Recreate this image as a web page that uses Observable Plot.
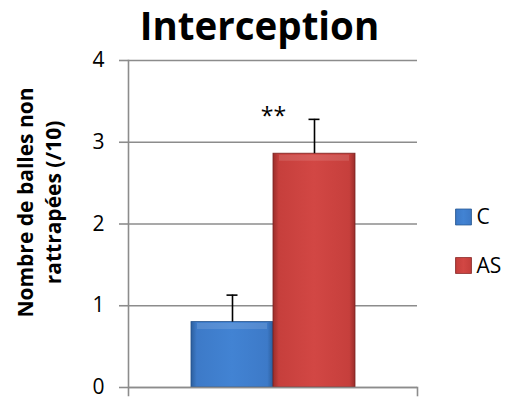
<!DOCTYPE html>
<html>
<head>
<meta charset="utf-8">
<script src="https://cdn.jsdelivr.net/npm/d3@7"></script>
<script src="https://cdn.jsdelivr.net/npm/@observablehq/plot@0.6"></script>
<style>
  html, body { margin: 0; padding: 0; background: #fff; }
  svg { font-family: "Open Sans", Lato, sans-serif; }
</style>
</head>
<body>
<div id="chart"></div>
<script>
const series = ["C", "AS"];
const values = [0.80, 2.86];
const errors = [0.33, 0.42];
const significance = ["", "**"];
const yTicks = [0, 1, 2, 3, 4];
const title = "Interception";
const yLabel = "Nombre de balles non\nrattrapées (/10)";

const data = series.map((s, i) => ({series: s, value: values[i], err: errors[i], sig: significance[i]}));

const gridColor = "#8c8c8c";
const W = 505, H = 401, mL = 128, mR = 88, mT = 60, mB = 14;
const innerH = H - mT - mB;

const legendMarks = series.flatMap((s, i) => [
  Plot.dot([s], {frameAnchor: "top-left", dx: 463 - mL, dy: 216.5 - mT + i * 48.5, symbol: "square", r: 9, fill: d => d, stroke: i === 0 ? "#2a5a94" : "#8c2a28", strokeWidth: 0.8}),
  Plot.text([s], {frameAnchor: "top-left", dx: 476 - mL, dy: 217 - mT + i * 48.5, text: d => d, textAnchor: "start", lineAnchor: "middle", fontSize: 21, fill: "black"})
]);

const svg = Plot.plot({
  width: W, height: H,
  marginLeft: mL, marginRight: mR, marginTop: mT, marginBottom: mB,
  style: {fontFamily: "'Open Sans', Lato, sans-serif", background: "white", overflow: "visible"},
  x: {domain: series, paddingInner: 0, paddingOuter: 0.745, axis: null},
  y: {domain: [0, 4], axis: null},
  color: {domain: series, range: ["url(#gradC)", "url(#gradAS)"]},
  marks: [
    Plot.gridY(yTicks, {stroke: gridColor, strokeOpacity: 1, strokeWidth: 1.6}),
    Plot.axisY(yTicks, {tickSize: 9, tickPadding: 15, fontSize: 21, stroke: gridColor, strokeWidth: 1.6, label: null, fill: "black", tickFormat: d => String(d)}),
    Plot.frame({anchor: "left", insetBottom: -8, stroke: gridColor, strokeWidth: 1.6}),
    Plot.frame({anchor: "right", insetTop: innerH, insetBottom: -8, stroke: gridColor, strokeWidth: 1.6}),
    Plot.barY(data, {x: "series", y: "value", fill: "series", stroke: d => d.series === "C" ? "#24528a" : "#7a2220", strokeWidth: 0.8}),
    Plot.tickY(data, {x: "series", y: "value", dy: 4, insetLeft: 6, insetRight: 6, strokeWidth: 6, stroke: "white", strokeOpacity: 0.12}),
    Plot.ruleY([0], {stroke: gridColor, strokeWidth: 1.6}),
    Plot.ruleX(data, {x: "series", y1: "value", y2: d => d.value + d.err, stroke: "black", strokeWidth: 1.6}),
    Plot.tickY(data, {x: "series", y: d => d.value + d.err, insetLeft: 35.5, insetRight: 35.5, stroke: "black", strokeWidth: 1.6}),
    Plot.text(data.filter(d => d.sig), {x: "series", y: d => d.value + d.err, text: "sig", dx: -41, dy: -3, fontSize: 23, letterSpacing: 3, fill: "black"}),
    Plot.text([title], {frameAnchor: "top-left", dx: 259 - mL, dy: 27 - mT, textAnchor: "middle", lineAnchor: "middle", fontSize: 38.5, fontWeight: "bold", fill: "black"}),
    Plot.text([yLabel], {frameAnchor: "left", rotate: -90, dx: 38 - mL, dy: 202 - (mT + innerH / 2), textAnchor: "middle", lineAnchor: "middle", fontSize: 21, fontWeight: "bold", lineHeight: 1.33, fill: "black"}),
    ...legendMarks
  ]
});

const defs = d3.select(svg).insert("defs", ":first-child");
function grad(id, edge, mid, light) {
  const g = defs.append("linearGradient").attr("id", id).attr("x1", "0").attr("x2", "1").attr("y1", "0").attr("y2", "0");
  [[0, edge], [0.07, mid], [0.5, light], [0.93, mid], [1, edge]].forEach(([o, c]) => g.append("stop").attr("offset", o).attr("stop-color", c));
}
grad("gradC", "#2c5f9e", "#3d7ac8", "#4283d3");
grad("gradAS", "#9a2e2b", "#c63f3c", "#d24744");

document.getElementById("chart").appendChild(svg);
</script>
</body>
</html>
